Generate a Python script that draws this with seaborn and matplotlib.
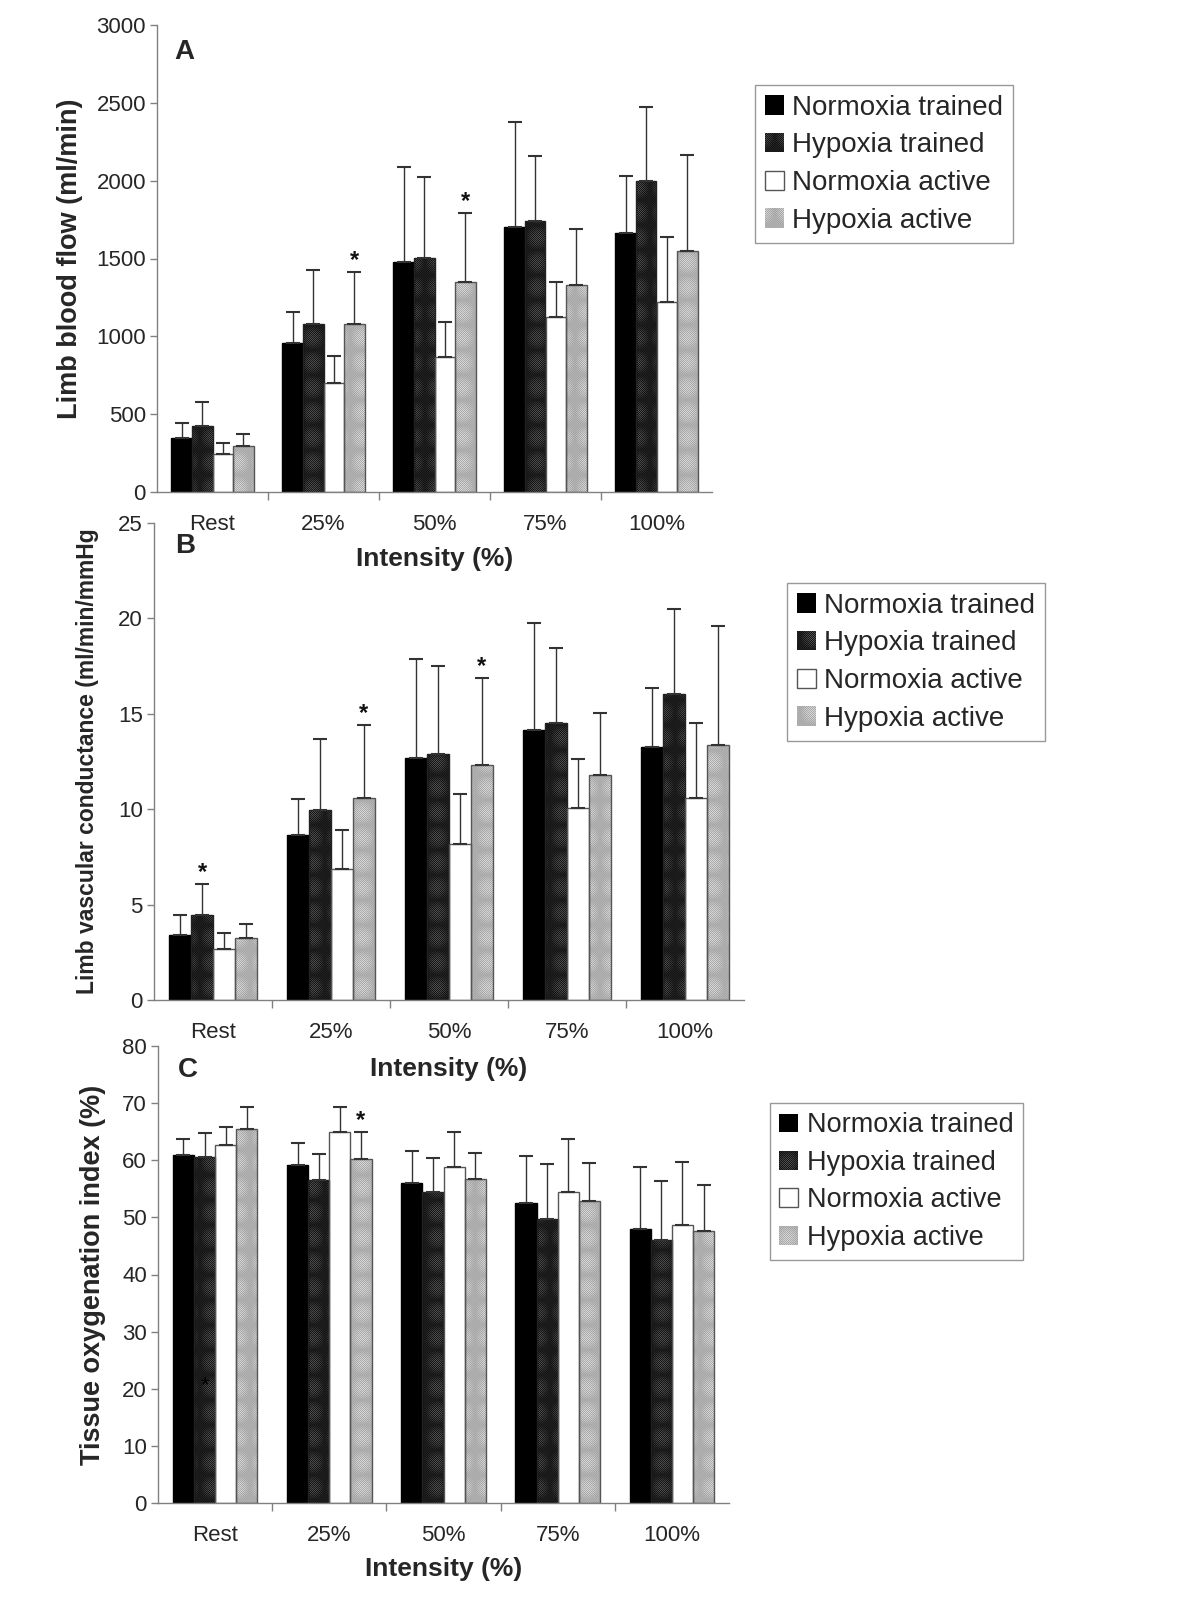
import numpy as np
import pandas as pd
import seaborn as sns
import matplotlib.pyplot as plt
from matplotlib.patches import Patch, Rectangle
from matplotlib.ticker import FixedLocator

# Data (mean, and top of the error bar)
intensity = ["Rest", "25%", "50%", "75%", "100%"]
groups = ["Normoxia trained", "Hypoxia trained", "Normoxia active", "Hypoxia active"]

# Panel A: limb blood flow (ml/min)
flow_nt = [344, 959, 1476, 1705, 1664]
flow_ht = [422, 1079, 1506, 1742, 1999]
flow_na = [241, 700, 865, 1125, 1223]
flow_ha = [298, 1079, 1347, 1331, 1549]
flow_nt_top = [443, 1159, 2089, 2380, 2029]
flow_ht_top = [578, 1423, 2024, 2157, 2474]
flow_na_top = [314, 874, 1095, 1352, 1636]
flow_ha_top = [372, 1412, 1795, 1692, 2167]

# Panel B: limb vascular conductance (ml/min/mmHg)
cond_nt = [3.41, 8.66, 12.66, 14.15, 13.27]
cond_ht = [4.43, 9.98, 12.88, 14.54, 16.05]
cond_na = [2.66, 6.89, 8.19, 10.07, 10.57]
cond_ha = [3.26, 10.57, 12.30, 11.78, 13.37]
cond_nt_top = [4.43, 10.52, 17.87, 19.75, 16.36]
cond_ht_top = [6.09, 13.68, 17.48, 18.45, 20.50]
cond_na_top = [3.50, 8.90, 10.80, 12.62, 14.54]
cond_ha_top = [4.00, 14.39, 16.88, 15.04, 19.60]

# Panel C: tissue oxygenation index (%)
toi_nt = [60.9, 59.2, 56.0, 52.5, 47.9]
toi_ht = [60.6, 56.6, 54.4, 49.8, 46.0]
toi_na = [62.7, 65.0, 58.9, 54.5, 48.6]
toi_ha = [65.5, 60.3, 56.8, 52.8, 47.7]
toi_nt_top = [63.7, 63.1, 61.6, 60.8, 58.9]
toi_ht_top = [64.7, 61.1, 60.4, 59.4, 56.4]
toi_na_top = [65.8, 69.4, 65.0, 63.7, 59.7]
toi_ha_top = [69.4, 65.0, 61.3, 59.6, 55.7]

# asterisks: (intensity index, group index)
stars_a = [(1, 3), (2, 3)]
stars_b = [(0, 1), (1, 3), (2, 3)]
stars_c = [(1, 3)]
stray_star_c = (0, 1, 20.5)   # the asterisk printed inside the Rest bar in panel C

# bar styles: face colour, hatch colour, hatch, outline colour
face = ["#000000", "#7c7c7c", "#ffffff", "#ffffff"]
hatch_col = ["#000000", "#151515", "#ffffff", "#a8a8a8"]
hatch = [None, "x" * 16, None, "x" * 16]
outline = ["#000000", "#222222", "#555555", "#555555"]

sns.set_style("white")
plt.rcParams["font.family"] = ["Liberation Sans", "DejaVu Sans"]
plt.rcParams["hatch.linewidth"] = 0.5
GRAY = "#808080"


def make_frame(means, tops):
    rows = []
    for g, m, t in zip(groups, means, tops):
        for lab, v, tp in zip(intensity, m, t):
            rows.append({"intensity": lab, "group": g, "value": v, "top": tp})
    return pd.DataFrame(rows)


def draw_panel(ax, df, ymax, ystep, ylabel, ylab_size, letter, letter_xy, stars):
    sns.barplot(data=df, x="intensity", y="value", hue="group", order=intensity,
                hue_order=groups, width=0.74, errorbar=None, legend=False, ax=ax,
                palette=face, saturation=1)
    ax.patch.set_visible(False)
    bar_sets = list(ax.containers)          # snapshot before errorbars add containers
    for gi, cont in enumerate(bar_sets):
        sub = df[df["group"] == groups[gi]].set_index("intensity").loc[intensity]
        xs, hs = [], []
        for p in cont.patches:
            p.set_facecolor(face[gi])
            p.set_edgecolor(hatch_col[gi])
            p.set_linewidth(0)
            if hatch[gi]:
                p.set_hatch(hatch[gi])
            # outline drawn on top so the hatch colour can differ from the edge
            ax.add_patch(Rectangle((p.get_x(), p.get_y()), p.get_width(), p.get_height(),
                                   fill=False, edgecolor=outline[gi], linewidth=1.0, zorder=2.5))
            xs.append(p.get_x() + p.get_width() / 2)
            hs.append(p.get_height())
        err = sub["top"].values - np.array(hs)
        ax.errorbar(xs, hs, yerr=[np.zeros(len(err)), err], fmt="none",
                    ecolor="#333333", elinewidth=1.0, capsize=5, capthick=1.5, zorder=3)
        for ci in range(len(xs)):
            if (ci, gi) in stars:
                ax.text(xs[ci], sub["top"].values[ci], "*", ha="center",
                        va="bottom", fontsize=17, fontweight="bold", color="#111111")
    ax.set_ylim(0, ymax)
    ax.set_xlim(-0.5, len(intensity) - 0.5)
    ax.set_yticks(np.arange(0, ymax + ystep / 2, ystep))
    ax.tick_params(axis="y", direction="out", length=5, width=1, color=GRAY,
                   labelsize=16, pad=3, left=True)
    ax.tick_params(axis="x", which="major", length=0, labelsize=16, pad=16)
    ax.xaxis.set_minor_locator(FixedLocator(np.arange(0.5, len(intensity) - 0.5, 1)))
    ax.tick_params(axis="x", which="minor", direction="out", length=6, width=1,
                   color=GRAY, bottom=True)
    for s in ["top", "right"]:
        ax.spines[s].set_visible(False)
    for s in ["left", "bottom"]:
        ax.spines[s].set_color(GRAY)
        ax.spines[s].set_linewidth(1.0)
    ax.set_xlabel("Intensity (%)", fontsize=19, fontweight="bold")
    ax.set_ylabel(ylabel, fontsize=ylab_size, fontweight="bold")
    ax.text(letter_xy[0], letter_xy[1], letter, transform=ax.transAxes, fontsize=20,
            fontweight="bold", ha="left", va="top")
    return bar_sets


def add_legend(fig, x, y, size, spacing):
    handles = [Patch(facecolor=face[i], edgecolor=hatch_col[i], hatch=hatch[i], linewidth=0)
               for i in range(len(groups))]
    leg = fig.legend(handles, groups, loc="upper left", bbox_to_anchor=(x / 1200, 1 - y / 1600),
                     bbox_transform=fig.transFigure, fontsize=size, frameon=True,
                     fancybox=False, edgecolor=GRAY, handlelength=0.7, handleheight=0.7,
                     handletextpad=0.3, labelspacing=spacing, borderpad=0.35, borderaxespad=0)
    leg.get_frame().set_linewidth(1.0)
    # the white square needs a visible outline
    leg.legend_handles[2].set_edgecolor(outline[2])
    leg.legend_handles[2].set_linewidth(1.0)


fig = plt.figure(figsize=(12, 16), dpi=100)

# axes rectangles in figure fractions (from pixel positions of the original)
ax_a = fig.add_axes([157 / 1200, 1 - 492 / 1600, (712 - 157) / 1200, (492 - 25) / 1600])
ax_b = fig.add_axes([154 / 1200, 1 - 1000 / 1600, (744 - 154) / 1200, (1000 - 523) / 1600])
ax_c = fig.add_axes([158 / 1200, 1 - 1503 / 1600, (729 - 158) / 1200, (1503 - 1046) / 1600])

df_a = make_frame([flow_nt, flow_ht, flow_na, flow_ha],
                  [flow_nt_top, flow_ht_top, flow_na_top, flow_ha_top])
df_b = make_frame([cond_nt, cond_ht, cond_na, cond_ha],
                  [cond_nt_top, cond_ht_top, cond_na_top, cond_ha_top])
df_c = make_frame([toi_nt, toi_ht, toi_na, toi_ha],
                  [toi_nt_top, toi_ht_top, toi_na_top, toi_ha_top])

draw_panel(ax_a, df_a, 3000, 500, "Limb blood flow (ml/min)", 19.5, "A", (0.032, 0.97), stars_a)
draw_panel(ax_b, df_b, 25, 5, "Limb vascular conductance (ml/min/mmHg", 16.5, "B",
           (0.036, 0.979), stars_b)
bars_c = draw_panel(ax_c, df_c, 80, 10, "Tissue oxygenation index (%)", 19.5, "C",
                    (0.035, 0.976), stars_c)

# stray asterisk inside the Rest / Hypoxia trained bar of panel C
p = bars_c[stray_star_c[1]].patches[stray_star_c[0]]
ax_c.text(p.get_x() + p.get_width() / 2, stray_star_c[2], "*", ha="center", va="center",
          fontsize=16, color="#000000", zorder=4)

ax_a.yaxis.set_label_coords(-0.133, 0.5)
ax_b.yaxis.set_label_coords(-0.093, 0.5)
ax_c.yaxis.set_label_coords(-0.091, 0.5)
ax_a.xaxis.set_label_coords(0.5, -0.118)
ax_b.xaxis.set_label_coords(0.5, -0.119)
ax_c.xaxis.set_label_coords(0.5, -0.118)

add_legend(fig, 755, 85, 20, 0.42)
add_legend(fig, 787, 583, 20, 0.42)
add_legend(fig, 770, 1103, 19.5, 0.42)

fig.savefig("out.png", dpi=100, facecolor="white")
